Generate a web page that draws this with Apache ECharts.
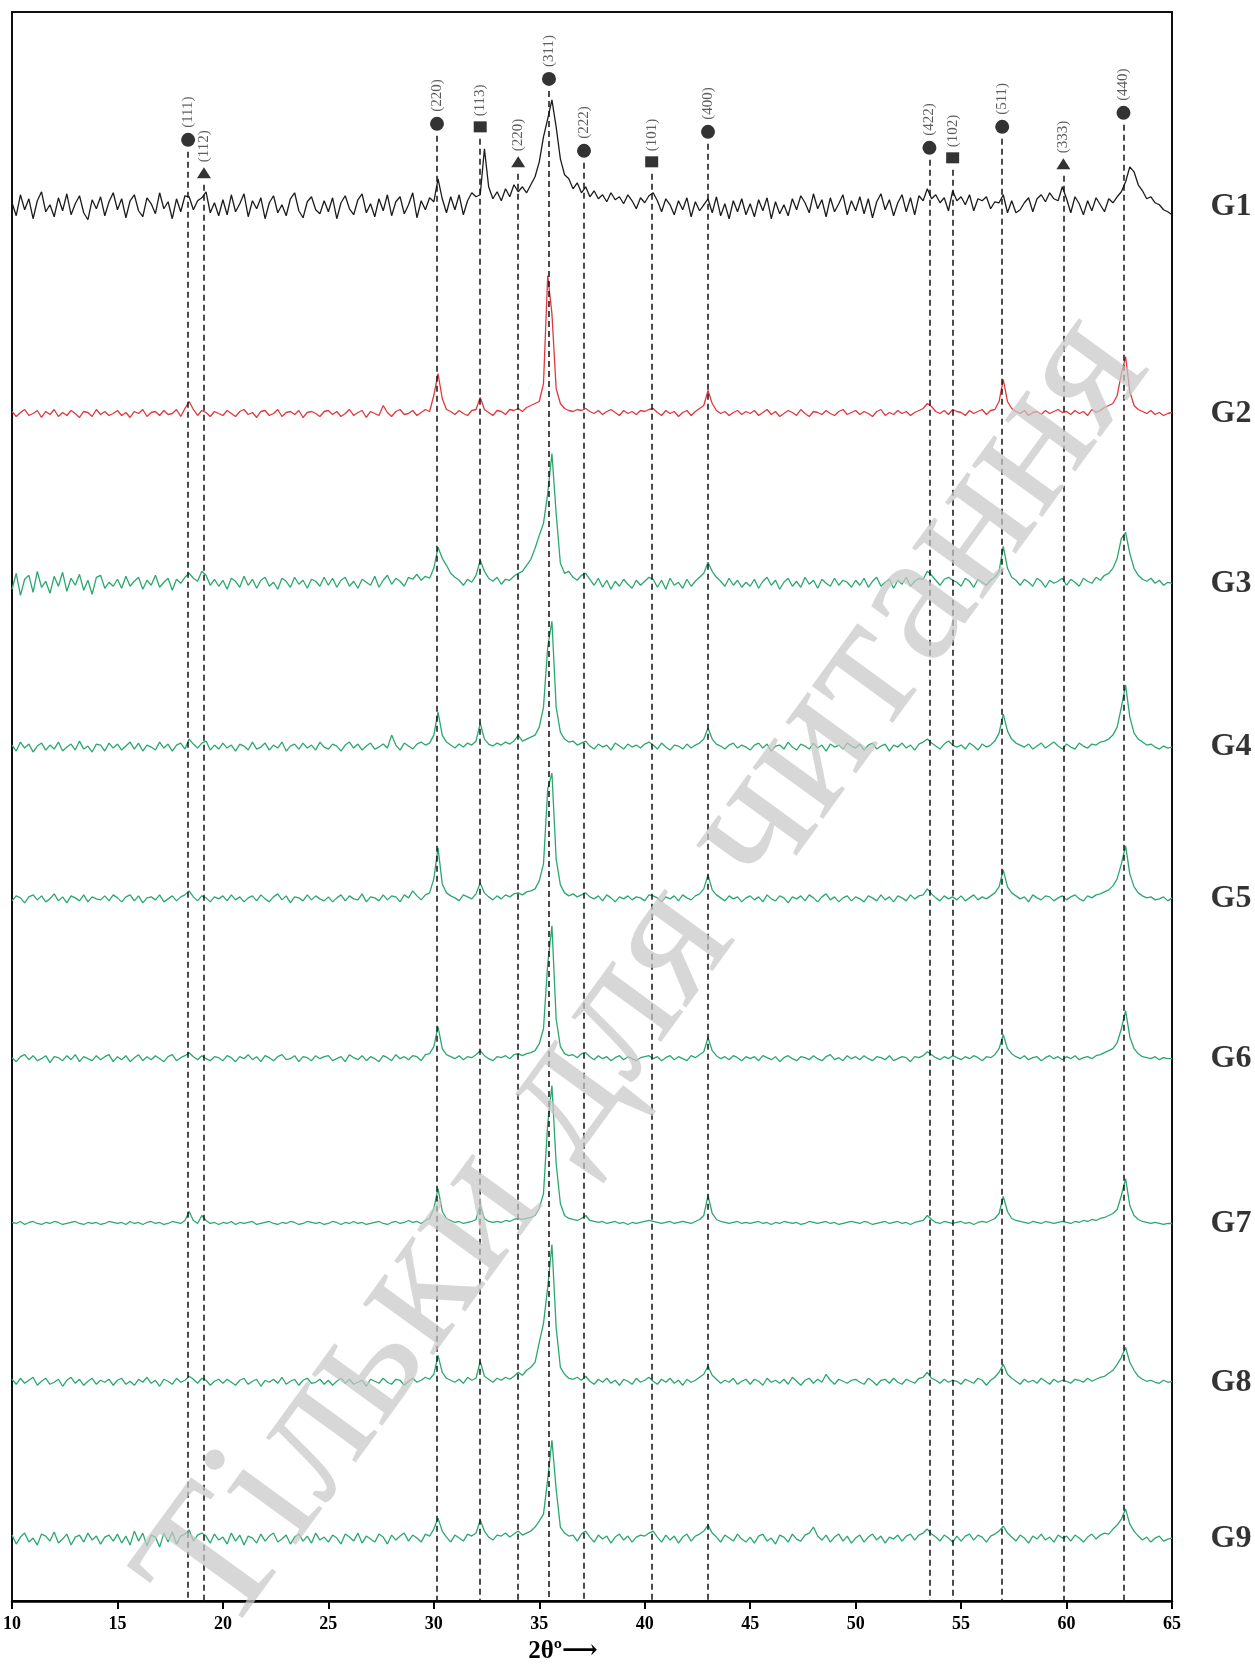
<!DOCTYPE html>
<html>
<head>
<meta charset="utf-8">
<script src="https://cdn.jsdelivr.net/npm/echarts@6/dist/echarts.min.js"></script>
<style>
  html, body { margin: 0; background: #fff; }
  #xrdChart { width: 1255px; height: 1669px; }
</style>
</head>
<body>
<div id="xrdChart"></div>
<script>
// intensities, relative to each pattern's own baseline,
// one value every 0.2 deg from 10 to 65 (each row = 5 deg)
const g1 = [
  4,-9,12,-3,8,-12,6,15,-5,2,-10,9,-4,13,-8,3,11,-6,-13,7,-2,10,-9,5,14,
  -3,8,-11,6,12,-4,-10,9,3,-7,14,-2,5,-12,8,-5,11,10,-3,6,9,15,-6,4,-9,
  7,-8,12,-5,3,13,-10,6,-2,9,-12,4,11,-6,2,-9,8,14,-4,-11,5,10,-3,-7,6,
  -5,9,-12,4,11,-2,-8,7,13,-6,3,-10,8,-4,12,-9,5,10,-7,2,14,-11,6,-3,9,
  5,28,8,-6,10,-3,12,-8,6,14,10,12,58,20,8,15,6,18,10,22,15,20,14,22,30,
  45,70,88,107,80,48,32,28,18,24,14,20,10,16,8,12,5,14,7,10,3,12,6,-2,9,
  4,11,14,6,-5,8,2,-8,6,-3,9,-10,5,-4,2,8,-6,10,-9,3,-12,6,-5,8,-8,
  3,-10,7,-4,9,-12,5,-7,2,-9,8,-3,11,4,-6,13,-2,7,-10,9,-5,3,12,-8,6,
  -4,10,-7,8,-11,5,13,-3,7,-9,4,12,-5,9,-8,11,6,18,8,12,4,9,-4,16,6,
  10,2,12,-4,8,6,10,-2,5,4,12,-6,6,-6,-3,4,9,-5,8,12,5,14,8,6,20,
  8,-6,10,3,-8,6,-4,9,2,-5,8,4,10,15,25,40,35,22,16,8,10,4,2,-3,-5,
  -8
];
const g2 = [
  2,-3,1,4,-2,0,3,-4,2,-1,4,-3,1,-2,3,0,-4,2,1,-3,4,-1,2,-2,0,
  3,-2,1,-4,2,0,4,-3,1,2,-2,3,-1,0,4,-3,5,12,4,-2,3,1,-3,2,0,
  -2,3,0,-3,2,4,-1,1,-4,2,3,-2,0,4,-3,1,2,-1,3,-4,1,2,0,-3,2,
  3,-1,2,-3,0,4,-2,1,3,-4,2,0,-2,8,1,-3,2,4,-1,0,3,-2,1,4,2,
  18,40,15,4,2,-1,3,0,-2,3,4,16,4,1,-2,3,2,-1,4,3,5,2,6,8,10,
  12,30,138,100,25,10,5,3,2,4,3,5,2,0,3,-1,2,4,1,-2,3,0,2,-1,3,
  2,4,5,1,-2,3,0,2,-3,1,3,-2,2,5,8,23,10,3,0,2,-2,1,3,-1,2,
  0,3,-2,1,4,-1,2,-3,0,3,1,-2,4,0,-3,2,1,-1,3,0,-2,2,4,-1,1,
  3,-1,2,0,-3,2,4,-2,1,-1,3,0,2,-2,1,3,5,10,7,2,0,3,-1,4,2,
  1,-2,3,0,2,4,-1,3,4,12,34,12,5,2,0,3,-2,1,2,-1,3,0,2,4,1,
  2,-1,3,0,2,-2,4,1,3,6,8,10,18,40,57,22,8,4,2,0,3,-1,1,-2,0,
  1
];
const g3 = [
  -6,10,-12,4,8,-9,12,-4,2,-10,7,-3,11,-8,5,-2,9,-7,3,-11,6,8,-5,1,-3,
  4,-5,7,-3,2,6,-6,3,-2,8,-4,1,5,-7,4,0,6,10,5,2,12,8,-2,4,-3,
  3,-6,5,2,-4,7,-2,4,-5,3,6,-3,1,-6,5,2,-4,6,-1,3,-5,4,2,-3,6,
  -2,5,-4,3,6,-3,2,-5,4,1,-2,7,-4,3,8,-1,5,2,-3,6,4,9,3,7,5,
  15,36,25,18,10,6,3,-2,4,1,8,23,12,5,2,6,-1,4,3,7,10,12,18,24,35,
  48,60,90,130,70,20,10,12,6,3,8,10,4,-2,5,-4,3,-6,2,-3,4,-1,-5,3,-2,
  2,6,4,-4,3,-6,5,-2,1,-5,4,-3,2,6,10,21,12,6,2,-3,5,-2,3,-4,1,
  -3,4,-5,2,6,-2,3,-6,1,5,-3,2,-4,6,-1,3,-5,4,0,-3,5,-2,3,1,-4,
  3,-2,5,-4,2,6,-3,1,4,-5,3,-1,6,-3,2,5,4,12,8,3,-2,4,6,3,1,
  -3,5,2,-4,4,1,-2,3,6,12,37,15,6,3,-2,4,1,-3,5,2,-4,3,0,2,5,
  -2,4,1,-3,5,2,0,6,3,8,10,15,25,45,51,30,15,8,4,2,5,0,3,-2,1,
  0
];
const g4 = [
  2,-4,5,-1,3,-5,1,4,-3,2,-2,5,-4,0,3,-3,6,-2,1,-5,3,2,-4,4,-1,
  3,-3,1,5,-2,4,-4,2,0,-3,5,-1,3,-4,2,4,-2,8,3,-1,4,6,-3,2,-2,
  4,-1,2,-4,3,1,-3,5,-2,0,4,-3,2,-1,5,-4,1,3,-2,4,-1,2,-3,5,0,
  -2,3,1,-4,2,5,-1,3,-3,1,4,-2,0,3,-1,12,2,-3,4,1,-2,3,5,2,4,
  12,35,12,5,2,-1,3,0,4,2,6,24,8,3,1,4,2,5,3,6,12,6,8,10,12,
  20,40,100,126,40,15,8,5,6,2,4,6,1,-2,3,0,2,-3,4,1,-2,3,0,2,-1,
  3,5,2,-2,4,0,-3,2,1,-2,3,-1,2,4,8,19,8,3,1,-2,2,4,-1,2,0,
  -3,2,4,-1,3,-4,1,2,-2,5,0,-3,3,1,-2,4,-1,2,-4,3,0,2,-2,4,1,
  -1,3,-3,2,4,-2,1,3,-4,2,0,4,-1,2,-3,3,5,8,4,1,-2,3,6,2,0,
  2,-2,4,1,-3,3,0,2,6,14,33,16,8,4,2,0,3,-2,1,4,-1,2,5,1,-2,
  3,0,-2,4,1,-1,3,2,5,6,8,12,20,40,62,30,14,8,5,2,3,0,-2,1,-1,
  0
];
const g5 = [
  -2,3,1,-4,2,4,-1,3,-3,0,5,-2,2,-4,3,1,-2,4,-3,2,0,-1,3,-2,4,
  1,-3,2,4,-2,3,-4,1,2,-1,4,-3,0,3,-2,2,4,8,2,-2,3,1,-3,2,0,
  3,-2,4,-1,2,-3,1,3,-2,4,0,-3,2,5,-1,3,-4,2,1,-2,4,-1,3,0,-2,
  2,-3,1,4,-2,3,0,-1,5,-3,2,1,-2,4,-1,3,2,-3,4,1,8,3,-1,4,6,
  20,51,15,6,3,1,-2,4,2,0,5,16,6,2,-1,3,0,4,2,5,6,4,7,8,10,
  18,35,110,126,40,14,6,3,5,2,4,6,2,0,3,-2,4,1,-3,2,0,3,-1,2,1,
  -2,4,3,1,-3,2,0,3,-2,4,1,-1,3,5,10,24,9,4,1,-2,3,0,2,-3,1,
  3,-1,2,-3,4,0,-2,3,1,-4,2,0,3,-2,4,1,-3,2,5,-1,2,-3,1,3,-2,
  2,0,-3,3,1,-2,4,-1,2,-3,3,1,-2,4,0,3,4,10,5,1,-2,3,0,2,-1,
  3,-2,1,4,-1,2,0,3,6,12,29,12,6,3,0,2,-3,4,1,-1,3,2,-2,1,3,
  -1,2,4,0,-2,3,1,4,5,7,9,13,20,35,53,25,12,6,3,1,2,-1,0,2,-2,
  1
];
const g6 = [
  1,-3,2,4,-1,3,-2,0,3,-4,2,1,-2,3,-1,4,-3,2,0,-2,3,-1,2,4,-3,
  2,-1,3,-3,1,4,-2,2,-1,3,0,-3,2,4,-2,1,3,6,2,-1,3,0,-2,2,1,
  -2,3,1,-3,2,0,4,-1,2,-3,3,1,-2,2,4,-1,0,3,-3,2,1,-2,3,0,2,
  3,-2,0,2,-3,4,1,-1,3,-2,2,0,-3,3,1,-2,4,0,2,-1,3,2,-2,4,5,
  12,32,10,4,2,0,3,-1,2,1,4,8,3,0,-2,2,1,3,0,4,5,3,5,6,8,
  15,30,95,133,40,12,5,3,4,1,5,6,2,-1,3,0,2,-2,1,3,-1,2,0,-2,1,
  2,3,0,2,-2,1,3,-1,2,0,-2,3,1,4,7,21,8,3,0,2,-1,3,1,-2,2,
  0,2,-2,3,1,-1,2,-3,1,3,0,-2,2,1,-1,3,0,-2,2,4,-1,1,-2,3,0,
  2,-1,3,0,-2,2,1,-1,3,-2,0,2,1,-3,2,1,3,7,4,1,-1,2,0,3,1,
  -1,2,0,3,1,-2,2,1,4,10,24,10,5,2,0,3,-1,1,2,-2,1,3,0,2,-1,
  2,0,3,-1,1,2,0,3,4,6,8,10,16,30,48,22,10,5,2,1,0,2,-1,1,0,
  0
];
const g7 = [
  1,0,2,-1,1,2,0,-1,1,0,2,1,-1,0,1,2,0,-1,1,0,1,-1,0,2,1,
  0,1,-1,2,0,1,-1,1,2,0,1,-1,0,2,1,0,3,12,3,0,8,3,0,1,-1,
  1,0,2,-1,1,0,1,2,-1,0,1,2,0,-1,1,0,2,1,-1,0,2,1,0,1,-1,
  0,2,1,-1,1,0,2,0,1,-1,0,1,2,0,-1,1,2,0,1,3,1,2,0,3,5,
  15,35,12,5,3,1,2,0,1,2,4,18,5,2,1,2,1,3,2,4,5,4,5,6,8,
  15,30,100,138,60,20,8,5,4,3,5,8,3,2,1,2,0,1,2,0,1,-1,1,0,1,
  2,3,2,1,0,1,2,0,1,2,1,0,2,4,8,28,10,4,2,1,0,1,2,0,1,
  0,1,2,0,1,-1,1,0,2,1,0,1,-1,0,2,1,0,1,2,0,1,-1,0,1,2,
  1,0,2,1,-1,0,1,2,0,1,2,0,1,-1,1,2,3,8,4,1,0,2,1,0,1,
  2,0,1,-1,1,2,1,3,5,10,27,12,5,3,2,1,0,2,1,0,2,1,0,1,2,
  1,0,2,1,3,2,4,3,5,6,8,10,14,28,45,18,8,4,2,1,0,1,0,-1,0,
  0
];
const g8 = [
  3,-2,4,-1,2,5,-3,1,4,-2,0,3,-4,2,5,-1,3,-3,1,4,-2,2,0,3,-3,
  2,4,-2,1,-3,3,0,5,-1,2,-4,3,1,-2,4,0,2,6,3,-1,4,2,-3,1,3,
  -1,3,0,-3,2,4,-2,1,3,-4,2,0,3,-1,5,-2,1,3,-3,2,4,-1,0,3,-2,
  2,-3,1,4,-1,3,-2,0,2,-4,3,1,-1,4,0,-2,3,2,-3,1,4,0,2,5,3,
  8,27,10,4,2,0,3,-1,5,2,4,21,6,3,0,4,2,5,3,6,10,7,12,15,20,
  40,59,95,138,55,15,8,4,3,5,2,6,1,-2,3,0,4,-1,2,-3,3,1,-2,4,0,
  2,5,1,-2,3,0,4,-1,2,-3,3,0,2,5,8,16,7,3,-1,2,0,4,-2,1,3,
  -2,3,1,-3,4,0,2,-1,3,-2,5,1,-3,2,4,-1,3,0,8,2,-2,3,1,-1,2,
  3,0,-2,4,1,-3,2,3,-1,4,0,-2,3,1,-1,4,5,10,4,2,-1,3,0,2,1,
  -2,3,1,-1,4,2,-3,2,5,10,18,8,4,1,-2,3,0,2,-1,4,1,-2,3,0,2,
  1,-1,3,2,0,4,1,3,5,6,9,12,18,25,35,20,12,6,3,1,2,0,-1,2,0,
  1
];
const g9 = [
  4,-5,2,6,-3,1,-6,5,3,-2,7,-4,0,5,-6,2,4,-3,6,-1,3,-5,2,4,-2,
  5,-4,3,-6,8,-2,6,-7,4,2,-8,6,-3,7,-5,3,5,9,-2,4,6,3,-4,5,-1,
  2,-5,6,-2,4,-6,3,1,-4,5,-2,3,6,-3,0,4,-5,2,5,-2,3,-4,6,-1,2,
  -3,4,1,-5,5,2,-2,6,-4,3,0,-3,5,2,-5,4,-1,3,6,-2,4,1,-3,5,3,
  10,21,8,2,-3,4,1,-2,5,3,6,19,8,2,-1,4,3,6,2,5,8,4,6,8,12,
  18,25,60,99,50,12,6,3,4,-2,5,8,2,-3,4,0,3,-4,2,5,-1,3,-3,2,4,
  3,6,8,2,-3,4,-1,3,-4,2,5,-2,3,5,8,14,6,2,-3,4,1,-2,5,0,-3,
  2,-4,3,5,-2,1,-5,4,2,-3,5,0,-2,4,6,12,3,-1,4,-3,2,5,-2,3,-4,
  1,4,-3,2,5,-1,3,-4,2,0,4,-2,3,5,-1,4,6,10,5,2,-2,4,1,-3,3,
  -2,3,5,-1,4,2,-3,3,5,8,13,6,2,-2,4,1,-4,3,0,5,-1,2,-3,4,1,
  3,-2,4,1,-3,2,5,0,4,6,5,10,14,20,30,15,8,3,-1,2,-3,1,3,-2,0,
  1
];

const sampleNames = ['G1', 'G2', 'G3', 'G4', 'G5', 'G6', 'G7', 'G8', 'G9'];
// vertical offset of each pattern (stacked plot)
const baselines = [1396, 1189, 1019, 855, 703, 543, 378, 219, 62];
const traceColors = ['#1c1c1c', '#e0383c', '#2aa870', '#2aa870', '#2aa870',
                     '#2aa870', '#2aa870', '#2aa870', '#2aa870'];

// reflections marked over the patterns
const peakPos = [18.35, 19.1, 30.15, 32.2, 34.0, 35.46, 37.12, 40.33, 43.0, 53.5, 54.6, 56.95, 59.85, 62.7];
const peakHkl = ['(111)', '(112)', '(220)', '(113)', '(220)', '(311)', '(222)', '(101)', '(400)', '(422)', '(102)', '(511)', '(333)', '(440)'];
const peakShape = ['circle', 'triangle', 'circle', 'rect', 'triangle', 'circle', 'circle', 'rect', 'circle', 'circle', 'rect', 'circle', 'triangle', 'circle'];
const markerLevel = [1463, 1430, 1479, 1476, 1441, 1524, 1452, 1441, 1471, 1455, 1445, 1476, 1439, 1490];

const xTicks = [10, 15, 20, 25, 30, 35, 40, 45, 50, 55, 60, 65];

const twoTheta = g1.map((_, i) => Math.round((10 + i * 0.2) * 10) / 10);
const traces = [g1, g2, g3, g4, g5, g6, g7, g8, g9];
const serif = "'Liberation Serif', 'DejaVu Serif', serif";

const shapeSize = { circle: 14, rect: [13, 11], triangle: [14, 11] };

const chart = echarts.init(document.getElementById('xrdChart'));

const lineSeries = traces.map((vals, k) => ({
  type: 'line',
  name: sampleNames[k],
  showSymbol: false,
  symbol: 'none',
  z: 3,
  lineStyle: { color: traceColors[k], width: 1.3 },
  data: vals.map((v, i) => [twoTheta[i], baselines[k] + v]),
}));

const option = {
  animation: false,
  backgroundColor: '#fff',
  grid: {
    left: 12, right: 83, top: 12, bottom: 66,
    show: true, borderColor: '#111', borderWidth: 2,
  },
  xAxis: {
    type: 'value',
    min: 10, max: 65, interval: 5,
    name: '2θº⟶',
    nameLocation: 'middle',
    nameGap: 38,
    nameTextStyle: { fontFamily: serif, fontWeight: 'bold', fontSize: 25, color: '#000', padding: [0, 58, 0, 0] },
    axisLine: { lineStyle: { color: '#000', width: 2.5 } },
    axisTick: { inside: false, length: 8, lineStyle: { color: '#000', width: 2 } },
    axisLabel: {
      fontFamily: serif, fontWeight: 'bold', fontSize: 18, color: '#000', margin: 14,
      formatter: (v) => (xTicks.includes(v) ? String(v) : ''),
    },
    splitLine: { show: false },
  },
  yAxis: { type: 'value', min: 0, max: 1591, show: false },
  series: [
    ...lineSeries,
    {
      // phase markers + hkl labels + dashed guide lines
      type: 'scatter',
      z: 5,
      clip: false,
      itemStyle: { color: '#000' },
      label: {
        show: true, position: 'top', rotate: 90, distance: 5,
        align: 'left', verticalAlign: 'middle',
        fontFamily: serif, fontSize: 15, color: '#333',
      },
      data: peakPos.map((x, i) => ({
        value: [x, markerLevel[i]],
        symbol: peakShape[i],
        symbolSize: shapeSize[peakShape[i]],
        label: { formatter: peakHkl[i] },
      })),
      markLine: {
        silent: true,
        symbol: ['none', 'none'],
        label: { show: false },
        lineStyle: { color: '#111', type: [6, 4], width: 1.5 },
        data: peakPos.map((x, i) => [{ coord: [x, markerLevel[i] - 12] }, { coord: [x, 0] }]),
      },
    },
    {
      // sample names on the right
      type: 'scatter',
      clip: false,
      symbolSize: 1,
      itemStyle: { color: 'rgba(0,0,0,0)' },
      label: {
        show: true, position: 'right', distance: 38,
        fontFamily: serif, fontWeight: 'bold', fontSize: 32, color: '#000',
        formatter: (p) => sampleNames[p.dataIndex],
      },
      data: baselines.map((b) => [65, b]),
    },
  ],
  graphic: [
    {
      type: 'text',
      x: 648, y: 975,
      rotation: 54 * Math.PI / 180,
      z: 100,
      silent: true,
      style: {
        text: 'Тільки для читання',
        fontFamily: serif,
        fontSize: 190,
        fill: 'rgba(200,200,200,0.72)',
        align: 'center',
        verticalAlign: 'middle',
      },
    },
  ],
};

chart.setOption(option);
</script>
</body>
</html>
